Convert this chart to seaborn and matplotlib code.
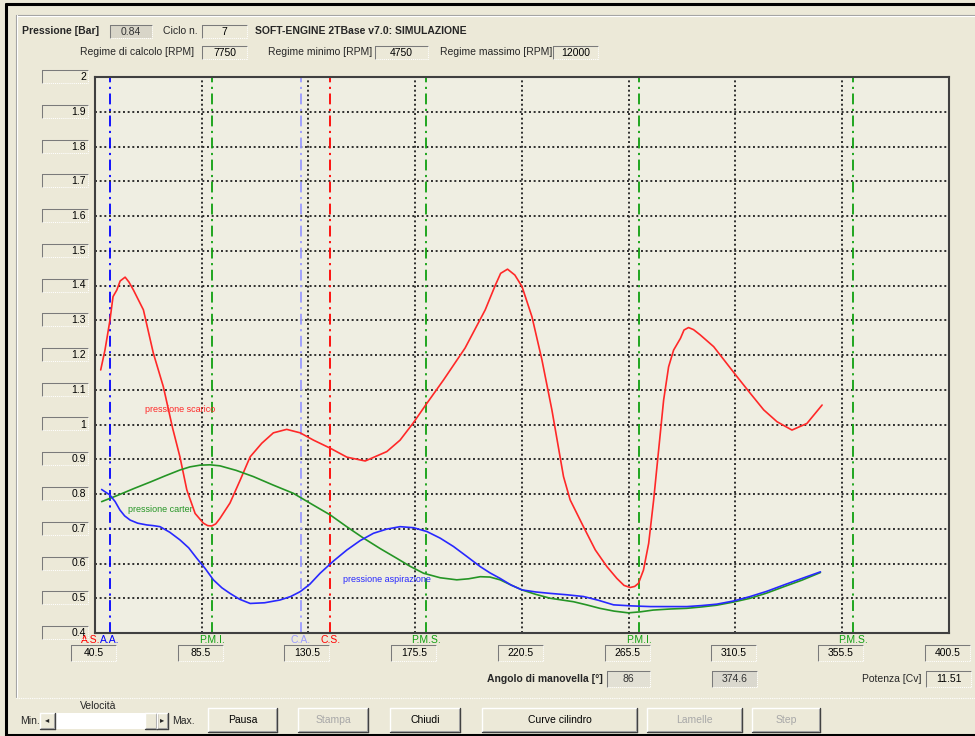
import numpy as np
import pandas as pd
import seaborn as sns
import matplotlib.pyplot as plt
from matplotlib.lines import Line2D
from matplotlib.patches import Rectangle
from matplotlib.transforms import blended_transform_factory

# Data
# pressione scarico (exhaust)
red_angle = [42.9, 44.7, 46.8, 48.1, 49.7, 51.1, 53.2, 54.8, 56.7, 60.9, 65.1, 69.3, 73.2, 76.3,
             79.2, 82.7, 86.2, 88.0, 89.7, 91.4, 93.2, 97.4, 101.7, 105.9, 110.8, 115.7, 121.3,
             127.0, 132.6, 139.6, 146.7, 154.4, 163.5, 169.1, 174.6, 180.4, 187.4, 196.5, 205.0,
             209.2, 211.5, 214.4, 217.5, 220.5, 224.7, 228.9, 233.1, 238.0, 240.8, 246.4, 251.4,
             256.3, 260.5, 263.5, 266.1, 268.0, 269.6, 271.7, 273.9, 276.0, 278.1, 280.2, 282.3,
             284.4, 287.3, 288.8, 290.7, 292.8, 295.6, 301.3, 311.1, 316.7, 322.4, 328.0, 334.3,
             340.6, 347.0]
red_val = [1.157, 1.214, 1.30, 1.368, 1.387, 1.413, 1.424, 1.41, 1.387, 1.33, 1.205, 1.109, 0.99,
           0.907, 0.812, 0.744, 0.716, 0.709, 0.708, 0.714, 0.73, 0.774, 0.84, 0.907, 0.946, 0.976,
           0.986, 0.976, 0.955, 0.932, 0.906, 0.895, 0.922, 0.955, 1.004, 1.061, 1.128, 1.22, 1.33,
           1.40, 1.435, 1.447, 1.43, 1.397, 1.31, 1.186, 1.042, 0.85, 0.783, 0.706, 0.639,
           0.591, 0.557, 0.537, 0.531, 0.534, 0.543, 0.581, 0.658, 0.783, 0.927, 1.07, 1.166,
           1.214, 1.248, 1.272, 1.279, 1.273, 1.258, 1.224, 1.138, 1.09, 1.042, 1.008, 0.984,
           1.003, 1.056]

# pressione carter (crankcase)
green_angle = [43.3, 50, 57, 64, 70, 76.3, 80.5, 84.8, 89, 93.2, 100, 107.3, 115.5, 124.1, 131.8,
               139.6, 146.6, 153.7, 160.7, 167.7, 173.3, 179.0, 186, 193.0, 198, 202.9, 207,
               211.3, 215.9, 220.5, 226.4, 232.4, 237.3, 242.2, 247.7, 253.3, 259.3, 265.3,
               270.5, 275.8, 282.8, 289.9, 296.2, 302.6, 309.6, 316.7, 323.7, 330.8, 338.5, 346.3]
green_val = [0.778, 0.796, 0.816, 0.835, 0.852, 0.869, 0.878, 0.883, 0.884, 0.881, 0.868, 0.85,
             0.826, 0.802, 0.771, 0.74, 0.706, 0.673, 0.643, 0.615, 0.592, 0.572, 0.559, 0.553,
             0.556, 0.562, 0.561, 0.553, 0.538, 0.524, 0.511, 0.5, 0.495, 0.49, 0.481, 0.471,
             0.463, 0.458, 0.461, 0.466, 0.469, 0.471, 0.475, 0.48, 0.489, 0.5, 0.515, 0.533,
             0.552, 0.574]

# pressione aspirazione (intake)
blue_angle = [43.3, 46.8, 49, 51.0, 53, 55.3, 58.5, 62.3, 65, 67.9, 72, 76.3, 80, 83.4, 87, 90.4,
              94, 97.4, 101.5, 105.9, 112, 118.5, 123, 127, 131, 135.4, 141, 146.7, 152.3, 157.9,
              163.5, 169.1, 174.8, 180.4, 186, 191.6, 197.3, 202.9, 207, 211.3, 215.9, 220.5,
              226.4, 232.4, 239.4, 246.4, 252.8, 259.1, 266.8, 274.6, 282.3, 290, 296.3, 302.6,
              309.6, 316.7, 323.7, 330.8, 338.5, 346.3]
blue_val = [0.813, 0.797, 0.778, 0.754, 0.737, 0.725, 0.716, 0.711, 0.709, 0.706, 0.69, 0.668,
            0.645, 0.615, 0.585, 0.553, 0.53, 0.514, 0.497, 0.485, 0.487, 0.495, 0.505, 0.519,
            0.54, 0.572, 0.607, 0.639, 0.666, 0.687, 0.699, 0.706, 0.703, 0.692, 0.673, 0.649,
            0.62, 0.591, 0.573, 0.557, 0.538, 0.524, 0.518, 0.514, 0.51, 0.505, 0.494, 0.481,
            0.478, 0.476, 0.476, 0.476, 0.479, 0.483, 0.492, 0.505, 0.52, 0.538, 0.557, 0.576]

x_ticks = [40.5, 85.5, 130.5, 175.5, 220.5, 265.5, 310.5, 355.5, 400.5]
y_ticks = [0.4, 0.5, 0.6, 0.7, 0.8, 0.9, 1.0, 1.1, 1.2, 1.3, 1.4, 1.5, 1.6, 1.7, 1.8, 1.9, 2.0]
y_tick_labels = ['0.4', '0.5', '0.6', '0.7', '0.8', '0.9', '1', '1.1', '1.2', '1.3', '1.4',
                 '1.5', '1.6', '1.7', '1.8', '1.9', '2']

# timing markers: name, crank angle, colour
marker_names = ['A.S.', 'A.A.', 'P.M.I.', 'C.A.', 'C.S.', 'P.M.S.', 'P.M.I.', 'P.M.S.']
marker_angles = [38.5, 46.8, 90.0, 127.3, 139.6, 180.0, 270.0, 360.0]
marker_colors = ['#FF0000', '#0000FF', '#10A010', '#9A9AFF', '#FF0000', '#10A010', '#10A010', '#10A010']

W, H = 975, 736
BG = '#ECE9D8'
PLOT_BG = '#EFEEE2'

sns.set_style('white')
plt.rcParams['font.family'] = ['Liberation Sans', 'DejaVu Sans']

fig = plt.figure(figsize=(W / 100, H / 100), dpi=100, facecolor=BG)
ax = fig.add_axes([95 / W, 1 - 633 / H, (949 - 95) / W, (633 - 77) / H])
ax.set_facecolor(PLOT_BG)


def fx(x):
    return x / W


def fy(y):
    return 1 - y / H


def line(x0, y0, x1, y1, color, lw=0.75, ls='-'):
    fig.add_artist(Line2D([fx(x0), fx(x1)], [fy(y0), fy(y1)], color=color, lw=lw, ls=ls,
                          transform=fig.transFigure))


def field(x0, y0, x1, y1, text, fill=None, ha='center', tx=None, color='black', size=7.5):
    if fill:
        fig.add_artist(Rectangle((fx(x0), fy(y1)), (x1 - x0) / W, (y1 - y0) / H, facecolor=fill,
                                 edgecolor='none', transform=fig.transFigure))
    line(x0, y0, x1, y0, '#7A7A7A')
    line(x0, y0, x0, y1, '#7A7A7A')
    line(x0, y1, x1, y1, 'white', ls=(0, (1, 1)))
    line(x1, y0, x1, y1, 'white', ls=(0, (1, 1)))
    if tx is None:
        tx = (x0 + x1) / 2
    fig.text(fx(tx), fy((y0 + y1) / 2 + 0.5), text, ha=ha, va='center', color=color, fontsize=size)


def button(x0, y0, x1, y1, text, enabled=True):
    line(x0, y0, x1, y0, 'white', lw=1.0)
    line(x0, y0, x0, y1, 'white', lw=1.0)
    line(x0, y1, x1, y1, '#404040', lw=1.0)
    line(x1, y0, x1, y1, '#404040', lw=1.0)
    line(x0 + 1, y1 - 1, x1 - 1, y1 - 1, '#A0A0A0', lw=0.75)
    line(x1 - 1, y0 + 1, x1 - 1, y1 - 1, '#A0A0A0', lw=0.75)
    fig.text(fx((x0 + x1) / 2), fy((y0 + y1) / 2), text, ha='center', va='center',
             color='black' if enabled else '#A8A8A8', fontsize=7.5)


# curves
df = pd.concat([
    pd.DataFrame({'angolo': red_angle, 'pressione': red_val, 'curva': 'scarico'}),
    pd.DataFrame({'angolo': green_angle, 'pressione': green_val, 'curva': 'carter'}),
    pd.DataFrame({'angolo': blue_angle, 'pressione': blue_val, 'curva': 'aspirazione'}),
])
palette = {'scarico': '#FF2828', 'carter': '#259525', 'aspirazione': '#2828FF'}
sns.lineplot(data=df, x='angolo', y='pressione', hue='curva', palette=palette, estimator=None,
             sort=False, legend=False, lw=1.2, ax=ax, zorder=4)

ax.set_xlim(x_ticks[0], x_ticks[-1])
ax.set_ylim(y_ticks[0], y_ticks[-1])
ax.set_xticks(x_ticks)
ax.set_yticks(y_ticks)
ax.tick_params(labelleft=False, labelbottom=False, length=0)
ax.grid(True, color='#2E2E2E', ls=(0, (1, 1.4)), lw=1.4)
ax.set_xlabel('')
ax.set_ylabel('')
for sp in ax.spines.values():
    sp.set_color('#404040')
    sp.set_linewidth(1.5)
    sp.set_zorder(5)

# timing marker lines and their names under the axis
below = blended_transform_factory(ax.transData, ax.transAxes)
for name, ang, col in zip(marker_names, marker_angles, marker_colors):
    ax.axvline(ang, color=col, lw=1.3, dashes=(6, 2.5, 1.2, 2.5), zorder=3)
    ha = 'center'
    if name == 'A.S.':
        ha = 'right'
        ang = 43.0
    ax.text(ang, -0.013, name, transform=below, ha=ha, va='center', color=col,
            fontsize=7.5, clip_on=False)

ax.text(61.6, 1.042, 'pressione scarico', color='#FF2828', fontsize=6.5, va='center')
ax.text(54.4, 0.754, 'pressione carter', color='#259525', fontsize=6.5, va='center')
ax.text(145.1, 0.553, 'pressione aspirazione', color='#2828FF', fontsize=6.5, va='center')

# tick fields
fig.canvas.draw()
for v, lab in zip(y_ticks, y_tick_labels):
    yp = H - ax.transData.transform((x_ticks[0], v))[1]
    field(42, yp - 7, 88, yp + 6, lab, ha='right', tx=86)
for v in x_ticks:
    xp = ax.transData.transform((v, y_ticks[0]))[0]
    field(xp - 24, 645, xp + 21, 661, f'{v:g}')

# header
fig.text(fx(22), fy(31), 'Pressione [Bar]', fontsize=7.5, fontweight='bold', va='center')
field(110, 25, 152, 38, '0.84', fill='#D8D5C8', color='#333333')
fig.text(fx(163), fy(31), 'Ciclo n.', fontsize=7.5, va='center')
field(202, 25, 247, 38, '7')
fig.text(fx(255), fy(31), 'SOFT-ENGINE 2TBase v7.0: SIMULAZIONE', fontsize=7.5,
         fontweight='bold', va='center')
fig.text(fx(80), fy(52), 'Regime di calcolo [RPM]', fontsize=7.5, va='center')
field(202, 46, 247, 59, '7750')
fig.text(fx(268), fy(52), 'Regime minimo [RPM]', fontsize=7.5, va='center')
field(375, 46, 428, 59, '4750')
fig.text(fx(440), fy(52), 'Regime massimo [RPM]', fontsize=7.5, va='center')
field(553, 46, 598, 59, '12000')

# lower info row
fig.text(fx(603), fy(679), 'Angolo di manovella [°]', fontsize=7.5, fontweight='bold',
         ha='right', va='center')
field(607, 671, 650, 687, '86', fill='#E2E0D4', color='#333333')
field(712, 671, 757, 687, '374.6', fill='#DAD8CE', color='#333333')
fig.text(fx(922), fy(679), 'Potenza [Cv]', fontsize=7.5, ha='right', va='center')
field(926, 671, 971, 687, '11.51')

# frames
line(16, 15, W, 15, '#A0A0A0', lw=0.8)
line(16, 16, W, 16, 'white', lw=0.8)
line(16, 15, 16, 697, '#A0A0A0', lw=0.8)
line(17, 15, 17, 697, 'white', lw=0.8)
line(16, 698, W, 698, 'white', lw=0.8, ls=(0, (1, 1)))
line(6, 4, W, 4, 'black', lw=2.2)
line(6, 4, 6, 736, 'black', lw=2.2)
line(6, 735, W, 735, 'black', lw=2.2)

# bottom controls
fig.text(fx(98), fy(706), 'Velocità', fontsize=7.5, ha='center', va='center')
fig.text(fx(20), fy(721), 'Min.', fontsize=7.5, va='center')
fig.text(fx(172), fy(721), 'Max.', fontsize=7.5, va='center')
fig.add_artist(Rectangle((fx(55), fy(729)), 90 / W, 16 / H, facecolor='white', edgecolor='none',
                         transform=fig.transFigure))
button(40, 713, 55, 729, '')
button(145, 713, 157, 729, '')
button(157, 713, 168, 729, '')
fig.text(fx(47.5), fy(721), '◂', fontsize=6, ha='center', va='center')
fig.text(fx(162.5), fy(721), '▸', fontsize=6, ha='center', va='center')

button(208, 708, 277, 732, 'Pausa')
button(298, 708, 368, 732, 'Stampa', enabled=False)
button(390, 708, 460, 732, 'Chiudi')
button(482, 708, 637, 732, 'Curve cilindro')
button(647, 708, 742, 732, 'Lamelle', enabled=False)
button(752, 708, 820, 732, 'Step', enabled=False)

fig.savefig('out.png', dpi=100, facecolor=BG)
